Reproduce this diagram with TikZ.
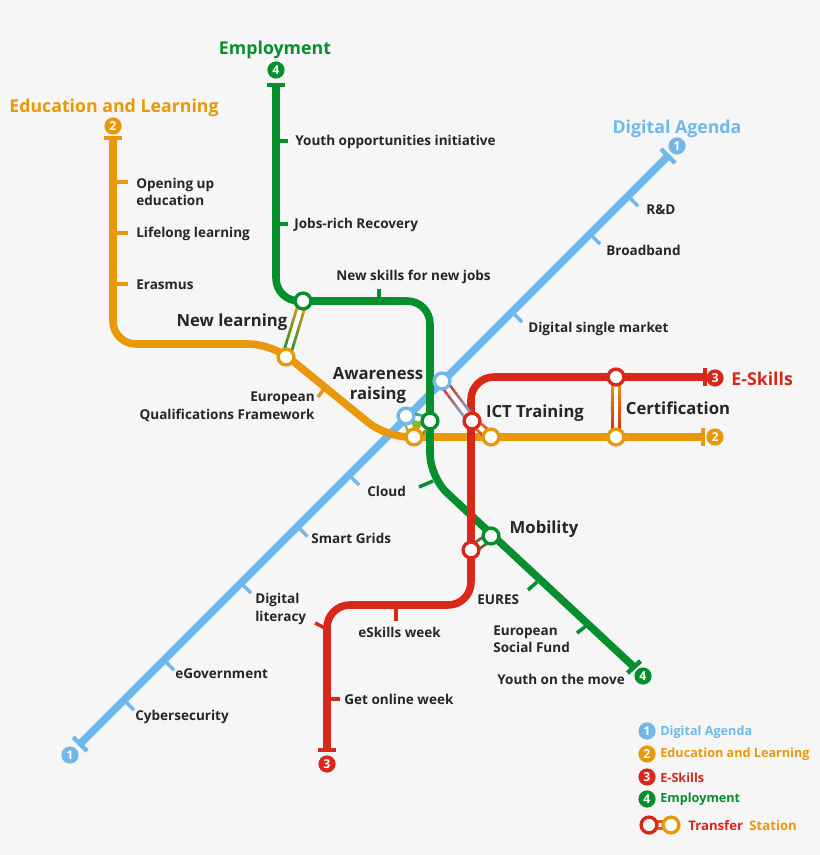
\documentclass[tikz,border=0pt]{standalone}
\usepackage{fontspec}
\setmainfont{Open Sans}
\usetikzlibrary{backgrounds, calc}
\definecolor{pagebg}{HTML}{F6F6F6}
\definecolor{bluel}{HTML}{70B8EA}
\definecolor{orangel}{HTML}{E8980A}
\definecolor{redl}{HTML}{D8281A}
\definecolor{greenl}{HTML}{078F2E}
\definecolor{inkc}{HTML}{23262B}
\definecolor{trifill}{HTML}{8DB52E}
\tikzset{
  metro/.style={line width=4.3pt, rounded corners=13pt},
  tickm/.style={line width=2pt},
  barm/.style={line width=2.6pt},
  stn/.style={circle, fill=white, line width=1.9pt, minimum size=9pt, inner sep=0pt},
  num/.style={circle, minimum size=9.8pt, inner sep=0pt, text=white, font=\fontsize{7}{8}\selectfont\bfseries},
  lbl/.style={text=inkc, font=\fontsize{7.7}{10}\selectfont\bfseries, inner sep=0pt, align=left, yshift=-0.7pt},
  big/.style={text=inkc, font=\fontsize{9.5}{11.4}\selectfont\bfseries, inner sep=0pt, align=center, yshift=-1.3pt},
  ttl/.style={font=\fontsize{10.1}{12}\selectfont\bfseries, inner sep=0pt, yshift=-1.3pt},
  lgd/.style={font=\fontsize{7.2}{9}\selectfont\bfseries, inner sep=0pt, anchor=west, yshift=-0.4pt},
}
% gradient-edged white link between two stations
\newcommand{\xfer}[4]{%
  \foreach \i in {0,...,9}{%
    \pgfmathsetmacro{\pct}{100-\i*11.1}
    \pgfmathsetmacro{\nxt}{(\i+1)/10}
    \draw[line width=5.8pt, color=#4!\pct!#3] ($(#1)!\i/10!(#2)$)--($(#1)!\nxt!(#2)$);
  }}
\newcommand{\xferw}[2]{\draw[line width=2.6pt, white] (#1.center)--(#2.center);}
\begin{document}
\begin{tikzpicture}[x=0.02cm, y=-0.02cm]
\useasboundingbox (0,0) rectangle (820,855);

% stations
\node [stn, draw=greenl] (gNew) at (303,301) {};
\node [stn, draw=orangel] (oNew) at (286,357) {};
\node [stn, draw=bluel] (bIct) at (442,381) {};
\node [stn, draw=redl] (rIct) at (472,421) {};
\node [stn, draw=orangel] (oIct) at (491,437) {};
\node [stn, draw=bluel] (bAw) at (406,416) {};
\node [stn, draw=greenl] (gAw) at (430,421) {};
\node [stn, draw=orangel] (oAw) at (414,437) {};
\node [stn, draw=redl] (rCert) at (616,377) {};
\node [stn, draw=orangel] (oCert) at (616,437) {};
\node [stn, draw=redl] (rMob) at (471,550) {};
\node [stn, draw=greenl] (gMob) at (491,536) {};

% line ends
\coordinate (bA) at (80,744);
\coordinate (bB) at (668,156);
\coordinate (oA) at (113,138);
\coordinate (oB) at (703,437);
\coordinate (rA) at (705,377);
\coordinate (rB) at (327,750);
\coordinate (gA) at (276,85);
\coordinate (gB) at (634,667);

% terminus numbers
\node [num, fill=bluel] (n1a) at (677,146) {1};
\node [num, fill=bluel] (n1b) at (70,755) {1};
\node [num, fill=orangel] (n2a) at (113,126) {2};
\node [num, fill=orangel] (n2b) at (715,437) {2};
\node [num, fill=redl] (n3a) at (715,378) {3};
\node [num, fill=redl] (n3b) at (327,764) {3};
\node [num, fill=greenl] (n4a) at (276,70) {4};
\node [num, fill=greenl] (n4b) at (643,676) {4};

% titles
\node [ttl, text=greenl] (tEmp) at (275,48) {Employment};
\node [ttl, text=orangel] (tEdu) at (114,106) {Education and Learning};
\node [ttl, text=bluel] (tDig) at (677,127) {Digital Agenda};
\node [ttl, text=redl, anchor=west] (tSki) at (731,377) {E-Skills};

% labels
\node [lbl, anchor=west] (l1) at (295,141) {Youth opportunities initiative};
\node [lbl, anchor=west] (l2) at (294,224) {Jobs-rich Recovery};
\node [lbl, anchor=west] (l3) at (336,276) {New skills for new jobs};
\node [lbl, anchor=west] (l4) at (136,190.5) {Opening up\\education};
\node [lbl, anchor=west] (l5) at (136,233) {Lifelong learning};
\node [lbl, anchor=west] (l6) at (136,284) {Erasmus};
\node [lbl, anchor=east, align=right] (l7) at (315,405.5) {European\\Qualifications Framework};
\node [lbl, anchor=west] (l8) at (646,208) {R\&D};
\node [lbl, anchor=west] (l9) at (606,249) {Broadband};
\node [lbl, anchor=west] (l10) at (528,328) {Digital single market};
\node [lbl, anchor=west] (l11) at (367,490) {Cloud};
\node [lbl, anchor=west] (l12) at (311,537) {Smart Grids};
\node [lbl, anchor=west] (l13) at (255,608) {Digital\\literacy};
\node [lbl, anchor=west] (l14) at (175,672) {eGovernment};
\node [lbl, anchor=west] (l15) at (135,715.5) {Cybersecurity};
\node [lbl, anchor=west] (l16) at (358,631) {eSkills week};
\node [lbl, anchor=west] (l17) at (344,698) {Get online week};
\node [lbl, anchor=west] (l18) at (477,598) {EURES};
\node [lbl, anchor=west] (l19) at (493,638) {European\\Social Fund};
\node [lbl, anchor=west] (l20) at (497,678) {Youth on the move};

\node [big] (sNew) at (232,320) {New learning};
\node [big] (sAw) at (378,383) {Awareness\\raising};
\node [big] (sIct) at (535,411) {ICT Training};
\node [big] (sCert) at (678,406) {Certification};
\node [big] (sMob) at (544,527) {Mobility};

% legend
\node [num, fill=bluel] (k1) at (647,731) {1};
\node [num, fill=orangel] (k2) at (647,754) {2};
\node [num, fill=redl] (k3) at (647,777) {3};
\node [num, fill=greenl] (k4) at (647,799) {4};
\node [lgd, text=bluel] (t1) at (660,732) {Digital Agenda};
\node [lgd, text=orangel] (t2) at (660,754) {Education and Learning};
\node [lgd, text=redl] (t3) at (660,777) {E-Skills};
\node [lgd, text=greenl] (t4) at (660,799) {Employment};
\node [stn, draw=redl] (kR) at (649,825) {};
\node [stn, draw=orangel] (kO) at (671,825) {};
\node [lgd, text=redl, font=\fontsize{7.5}{9}\selectfont\bfseries] (t5) at (688,825) {Transfer};
\node [lgd, text=orangel, font=\fontsize{7.5}{9}\selectfont\bfseries] (t6) at (749,825) {Station};

\begin{pgfonlayer}{background}
\fill[pagebg] (0,0) rectangle (820,855);

% blue
\draw[metro, bluel] (bA)--(bB);
\draw[barm, bluel] ($(bA)+(-7,-7)$)--($(bA)+(7,7)$);
\draw[barm, bluel] ($(bB)+(-7,-7)$)--($(bB)+(7,7)$);
\foreach \x in {124,164,241,297.5,349,512,590,628}
  \draw[tickm, bluel] (\x,824-\x)--(\x+10,834-\x);

% orange
\draw[metro, orangel] (oA)--(113,344)--(272,344)--(386,437)--(oB);
\draw[barm, orangel] ($(oA)+(-9,0)$)--($(oA)+(9,0)$);
\draw[barm, orangel] ($(oB)+(0,-9)$)--($(oB)+(0,9)$);
\foreach \y in {182,233,284}
  \draw[tickm, orangel] (113,\y)--(128,\y);
\draw[tickm, orangel] (327,385)--(318,397);

% green
\draw[metro, greenl] (gA)--(276,301)--(430,301)--(430,477)--(gB);
\draw[barm, greenl] ($(gA)+(-9,0)$)--($(gA)+(9,0)$);
\draw[barm, greenl] ($(gB)+(-6.5,6)$)--($(gB)+(6.5,-6)$);
\foreach \y in {141,224}
  \draw[tickm, greenl] (276,\y)--(288,\y);
\draw[tickm, greenl] (379,301)--(379,289);
\draw[tickm, greenl] (433,481)--(419,487);
\draw[tickm, greenl] (537,582)--(528,590);
\draw[tickm, greenl] (586,626)--(577,633);

% red
\draw[metro, redl] (rA)--(471,377)--(471,605)--(327,605)--(rB);
\draw[barm, redl] ($(rA)+(0,-9)$)--($(rA)+(0,9)$);
\draw[barm, redl] ($(rB)+(-9,0)$)--($(rB)+(9,0)$);
\draw[tickm, redl] (396,605)--(396,621);
\draw[tickm, redl] (327,629)--(315,623);
\draw[tickm, redl] (327,699)--(340,699);

% transfer links
\xfer{gNew}{oNew}{greenl}{orangel}
\xfer{bIct}{rIct}{bluel}{redl}
\xfer{rIct}{oIct}{redl}{orangel}
\xfer{rCert}{oCert}{redl}{orangel}
\xfer{rMob}{gMob}{redl}{greenl}
\xfer{kR}{kO}{redl}{orangel}
\xfer{bAw}{gAw}{bluel}{greenl}
\xfer{gAw}{oAw}{greenl}{orangel}
\xfer{oAw}{bAw}{orangel}{bluel}
\fill[trifill] (bAw.center)--(gAw.center)--(oAw.center)--cycle;
\xferw{gNew}{oNew}
\xferw{bIct}{rIct}
\xferw{rIct}{oIct}
\xferw{rCert}{oCert}
\xferw{rMob}{gMob}
\xferw{kR}{kO}
\xferw{bAw}{gAw}
\xferw{gAw}{oAw}
\xferw{oAw}{bAw}
\end{pgfonlayer}
\end{tikzpicture}
\end{document}
